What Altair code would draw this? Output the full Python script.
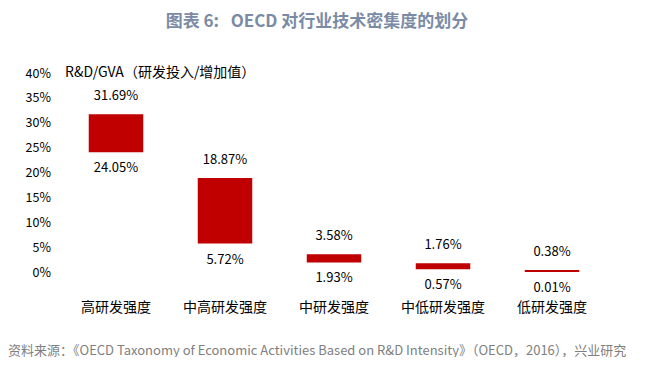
import altair as alt
import pandas as pd

categories = ["高研发强度", "中高研发强度", "中研发强度", "中低研发强度", "低研发强度"]
highs = [31.69, 18.87, 3.58, 1.76, 0.38]
lows = [24.05, 5.72, 1.93, 0.57, 0.01]

df = pd.DataFrame({
    "cat": categories,
    "high": highs,
    "low": lows,
    "high_lbl": [f"{v:.2f}%" for v in highs],
    "low_lbl": [f"{v:.2f}%" for v in lows],
})

FONT = "Noto Sans CJK SC"
x_enc = alt.X(
    "cat:N", sort=categories,
    scale=alt.Scale(paddingInner=0.5, paddingOuter=0.25),
    axis=alt.Axis(
        title="资料来源：《OECD Taxonomy of Economic Activities Based on R&D Intensity》（OECD，2016），兴业研究",
        titleX=-54, titleY=78, titleAlign="left", titleBaseline="middle",
        titleFont=FONT, titleFontSize=13, titleFontWeight="normal", titleColor="#808080",
        labelAngle=0, labelPadding=28, labelFontSize=14, labelFont=FONT, labelColor="#000000",
        domain=False, ticks=False, grid=False, labelOverlap=False,
    ),
)
y_scale = alt.Scale(domain=[0, 40], nice=False)
y_axis = alt.Axis(
    values=[0, 5, 10, 15, 20, 25, 30, 35, 40],
    labelExpr="datum.value + '%'", labelOverlap=False,
    labelFont=FONT, labelFontSize=12.5, labelColor="#000000", labelPadding=11,
    domain=False, ticks=False, grid=False,
    title="R&D/GVA（研发投入/增加值）", titleAngle=0, titleX=3, titleY=-1,
    titleAlign="left", titleBaseline="middle", titleFont=FONT, titleFontSize=14,
    titleFontWeight="normal", titleColor="#000000",
)

bars = alt.Chart(df).mark_bar(color="#C00000").encode(
    x=x_enc,
    y=alt.Y("low:Q", scale=y_scale, axis=y_axis),
    y2="high:Q",
)

top_txt = alt.Chart(df).mark_text(font=FONT, fontSize=13, color="#000000", dy=-18, baseline="middle").encode(
    x=x_enc, y=alt.Y("high:Q", scale=y_scale, axis=y_axis), text="high_lbl:N"
)
bot_txt = alt.Chart(df).mark_text(font=FONT, fontSize=13, color="#000000", dy=16, baseline="middle").encode(
    x=x_enc, y=alt.Y("low:Q", scale=y_scale, axis=y_axis), text="low_lbl:N"
)

chart = alt.layer(bars, top_txt, bot_txt).properties(
    width=545, height=199,
    autosize=alt.AutoSizeParams(type="none"),
    padding={"left": 53.5, "top": 65, "right": 34.5, "bottom": 85},
    title=alt.TitleParams(
        "图表 6:\u00a0\u00a0\u00a0OECD 对行业技术密集度的划分", anchor="middle", offset=34, dx=-17,
        font=FONT, fontSize=17, fontWeight="bold", color="#7B8BA5",
    ),
).configure_view(stroke=None)

chart.save("out.html", embed_options={"renderer": "svg", "actions": False})
